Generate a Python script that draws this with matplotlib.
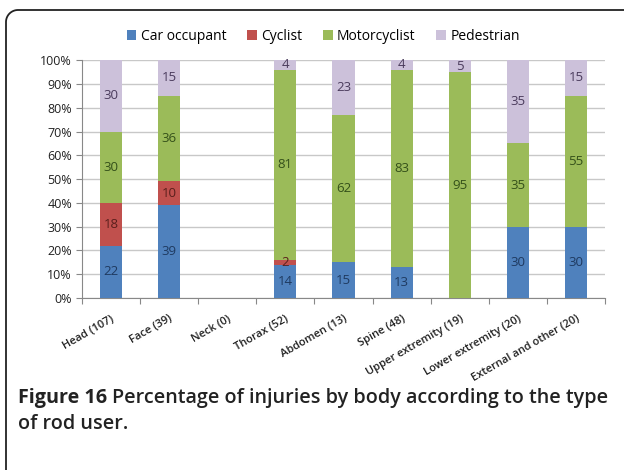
import numpy as np
import matplotlib.pyplot as plt
from matplotlib.patches import Patch
from matplotlib.lines import Line2D

categories = ['Head (107)', 'Face (39)', 'Neck (0)', 'Thorax (52)', 'Abdomen (13)',
              'Spine (48)', 'Upper extremity (19)', 'Lower extremity (20)',
              'External and other (20)']
car = [22, 39, 0, 14, 15, 13, 0, 30, 30]
cyclist = [18, 10, 0, 2, 0, 0, 0, 0, 0]
motor = [30, 36, 0, 81, 62, 83, 95, 35, 55]
pedestrian = [30, 15, 0, 4, 23, 4, 5, 35, 15]
series_names = ['Car occupant', 'Cyclist', 'Motorcyclist', 'Pedestrian']

colors = ['#4F81BD', '#C0504D', '#9BBB59', '#CCC1DA']
text_colors = ['#1F3A60', '#5A1F1C', '#34501A', '#4A3B5C']

data = np.array([car, cyclist, motor, pedestrian], dtype=float)
totals = data.sum(axis=0)
pct = np.where(totals > 0, data / np.where(totals > 0, totals, 1) * 100, 0)

fig = plt.figure(figsize=(6.24, 4.70), dpi=100)
plt.rcParams['font.family'] = ['Open Sans', 'DejaVu Sans']

# frame round the figure: only the top and left edges show, rounded corner
W, H = 624, 470
rad = 12
cx, cy = 6 + rad, 460 - rad
ang = np.linspace(np.pi, np.pi / 2, 20)
fx = np.concatenate([[6], cx + rad * np.cos(ang), [W + 5]])
fy = np.concatenate([[-5], cy + rad * np.sin(ang), [460]])
fig.lines.append(Line2D(fx / W, fy / H, transform=fig.transFigure, color='#222222',
                        linewidth=1.3))

ax = fig.add_axes([0.131, 0.366, 0.839, 0.506])
x = np.arange(len(categories))
bottom = np.zeros(len(categories))
for i in range(4):
    ax.bar(x, pct[i], bottom=bottom, width=0.38, color=colors[i], zorder=3)
    for j in range(len(categories)):
        if data[i, j] > 0:
            ax.text(x[j], bottom[j] + pct[i, j] / 2, '%d' % data[i, j], ha='center',
                    va='center', fontsize=9.5, color=text_colors[i], zorder=4)
    bottom += pct[i]

ax.set_xlim(-0.5, len(categories) - 0.5)
ax.set_ylim(0, 100)
ax.set_yticks(np.arange(0, 101, 10))
ax.set_yticklabels(['%d%%' % v for v in range(0, 101, 10)], fontsize=9, color='#222222')
ax.yaxis.grid(True, color='#C8C8C8', linewidth=1, zorder=0)
ax.set_xticks(np.arange(-0.5, len(categories), 1))
ax.set_xticklabels([])
ax.set_xticks(x, minor=True)
ax.set_xticklabels(categories, minor=True, rotation=30, ha='right', rotation_mode='anchor',
                   fontsize=8, fontweight='semibold', color='#222222')
ax.tick_params(axis='x', which='minor', length=0, pad=11)
ax.tick_params(axis='x', which='major', length=4, color='#888888')
ax.tick_params(axis='y', length=4, color='#888888', pad=3)
for s in ['top', 'right']:
    ax.spines[s].set_visible(False)
ax.spines['left'].set_color('#888888')
ax.spines['bottom'].set_color('#888888')

handles = [Patch(facecolor=c) for c in colors]
fig.legend(handles, series_names, loc='center', bbox_to_anchor=(0.518, 0.923), ncol=4,
           frameon=False, fontsize=10, handlelength=0.7, handleheight=0.7,
           handletextpad=0.3, columnspacing=1.5)

# caption
fig.canvas.draw()
r = fig.canvas.get_renderer()
t1 = fig.text(0.029, 0.143, 'Figure 16', fontsize=14.2, fontweight='bold', color='#222222',
              va='baseline')
bb = t1.get_window_extent(renderer=r)
fig.text(bb.x1 / fig.bbox.width + 0.007, 0.143,
         'Percentage of injuries by body according to the type', fontsize=14.2,
         fontweight='semibold', color='#222222', va='baseline')
fig.text(0.029, 0.087, 'of rod user.', fontsize=14.2, fontweight='semibold',
         color='#222222', va='baseline')

fig.savefig('out.png', dpi=100)
